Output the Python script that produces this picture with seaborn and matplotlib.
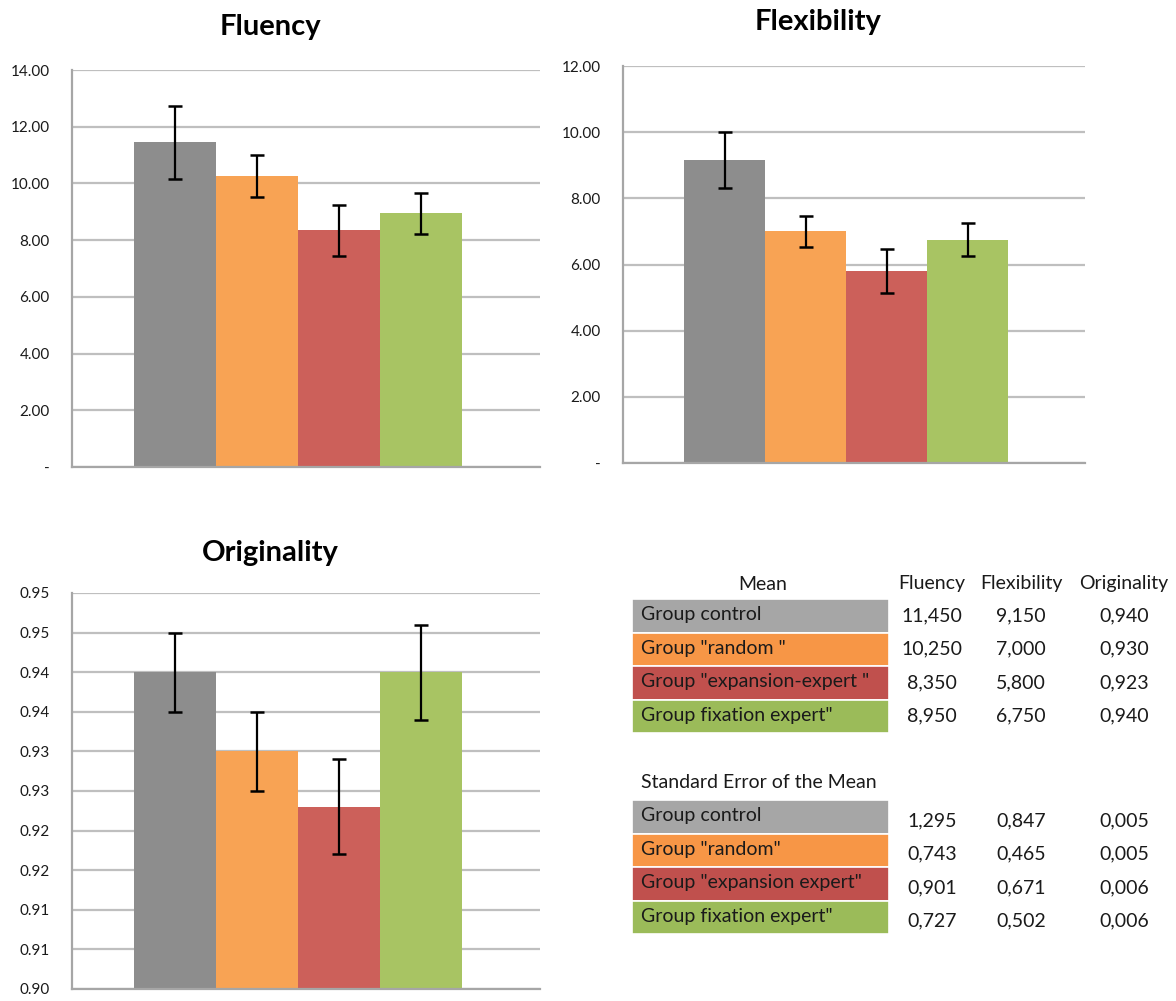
import matplotlib
matplotlib.use("Agg")
import matplotlib.pyplot as plt
import seaborn as sns
import pandas as pd
from matplotlib.patches import Rectangle

# data
groups = ["Group control", 'Group "random"', 'Group "expansion expert"', 'Group fixation expert"']
mean_labels = ["Group control", 'Group "random "', 'Group "expansion-expert "', 'Group fixation expert"']
sem_labels = ["Group control", 'Group "random"', 'Group "expansion expert"', 'Group fixation expert"']
measures = ["Fluency", "Flexibility", "Originality"]

fluency_mean = [11.450, 10.250, 8.350, 8.950]
flexibility_mean = [9.150, 7.000, 5.800, 6.750]
originality_mean = [0.940, 0.930, 0.923, 0.940]

fluency_sem = [1.295, 0.743, 0.901, 0.727]
flexibility_sem = [0.847, 0.465, 0.671, 0.502]
originality_sem = [0.005, 0.005, 0.006, 0.006]

fluency_ticks = [0, 2, 4, 6, 8, 10, 12, 14]
flexibility_ticks = [0, 2, 4, 6, 8, 10, 12]
originality_ticks = [0.900, 0.905, 0.910, 0.915, 0.920, 0.925, 0.930, 0.935, 0.940, 0.945, 0.950]
originality_ticklabels = ["0.90", "0.91", "0.91", "0.92", "0.92", "0.93", "0.93", "0.94", "0.94", "0.95", "0.95"]

bar_colors = ["#8d8d8d", "#f8a354", "#cc605a", "#a8c463"]
table_colors = ["#a6a6a6", "#f79646", "#c0504d", "#9bbb59"]

sns.set_style("white")
plt.rcParams["font.family"] = ["Lato", "DejaVu Sans"]

TEXT = "#1a1a1a"
GRID = "#bfbfbf"
W, H = 1176, 1001


def money_labels(ticks):
    # excel accounting style: zero shown as a dash
    return ["-" if t == 0 else f"{t:.2f}" for t in ticks]


def bar_panel(ax, means, sems, ticks, ticklabels):
    df = pd.DataFrame({"group": groups, "value": means})
    sns.barplot(data=df, x="group", y="value", hue="group", palette=bar_colors,
                saturation=1, width=1.0, dodge=False, legend=False, ax=ax,
                zorder=2, linewidth=0)
    ax.errorbar(range(len(groups)), means, yerr=sems, fmt="none", ecolor="black",
                elinewidth=1.6, capsize=5, capthick=1.8, zorder=3)
    ax.set_ylim(ticks[0], ticks[-1])
    ax.set_yticks(ticks)
    ax.set_yticklabels(ticklabels)
    ax.set_xlim(-1.26, 4.45)
    ax.set_xticks([])
    ax.set_xlabel("")
    ax.set_ylabel("")
    ax.grid(True, axis="y", color=GRID, linewidth=1.6)
    ax.set_axisbelow(True)
    for s in ["top", "right"]:
        ax.spines[s].set_visible(False)
    for s in ["left", "bottom"]:
        ax.spines[s].set_color("#a6a6a6")
        ax.spines[s].set_linewidth(1.6)
    ax.tick_params(axis="y", length=6, width=1.4, color="#a6a6a6", labelsize=11,
                   labelcolor=TEXT, pad=10)


fig = plt.figure(figsize=(W / 100, H / 100), dpi=100)

ax1 = fig.add_axes([72 / W, 1 - 467 / H, 468 / W, 397 / H])
bar_panel(ax1, fluency_mean, fluency_sem, fluency_ticks, money_labels(fluency_ticks))

ax2 = fig.add_axes([623 / W, 1 - 463 / H, 462 / W, 397 / H])
bar_panel(ax2, flexibility_mean, flexibility_sem, flexibility_ticks, money_labels(flexibility_ticks))

ax3 = fig.add_axes([72 / W, 1 - 989 / H, 468 / W, 396 / H])
bar_panel(ax3, originality_mean, originality_sem, originality_ticks, originality_ticklabels)

fig.text(270 / W, 1 - 27 / H, "Fluency", ha="center", va="center", fontsize=21,
         fontweight="bold", color="black")
fig.text(818 / W, 1 - 22 / H, "Flexibility", ha="center", va="center", fontsize=21,
         fontweight="bold", color="black")
fig.text(270 / W, 1 - 553 / H, "Originality", ha="center", va="center", fontsize=21,
         fontweight="bold", color="black")

# summary table, drawn in pixel coordinates on an overlay axes
tab = fig.add_axes([0, 0, 1, 1])
tab.set_xlim(0, W)
tab.set_ylim(H, 0)
tab.axis("off")

col_x = [932, 1021, 1124]
box_left, box_right = 632, 889
row_h = 33.5
fs = 14

tab.text(763, 584, "Mean", ha="center", va="center", fontsize=fs, color=TEXT)
for name, x in zip(measures, col_x):
    tab.text(x, 584, name, ha="center", va="center", fontsize=fs, color=TEXT)


def table_block(top, labels, columns, value_shift=0):
    for i, label in enumerate(labels):
        y0 = top + i * row_h
        tab.add_patch(Rectangle((box_left, y0), box_right - box_left, row_h,
                                facecolor=table_colors[i], edgecolor="white",
                                linewidth=1.2))
        tab.text(box_left + 9, y0 + row_h / 2 - 1, label, ha="left", va="center",
                 fontsize=fs, color=TEXT)
        for vals, x in zip(columns, col_x):
            txt = f"{vals[i]:.3f}".replace(".", ",")
            tab.text(x, y0 + row_h / 2 + value_shift, txt, ha="center", va="center",
                     fontsize=fs, color=TEXT)


table_block(599, mean_labels, [fluency_mean, flexibility_mean, originality_mean])
tab.text(box_left + 9, 782, "Standard Error of the Mean", ha="left", va="center",
         fontsize=fs, color=TEXT)
table_block(800, sem_labels, [fluency_sem, flexibility_sem, originality_sem], value_shift=4)

fig.savefig("out.png", dpi=100)
